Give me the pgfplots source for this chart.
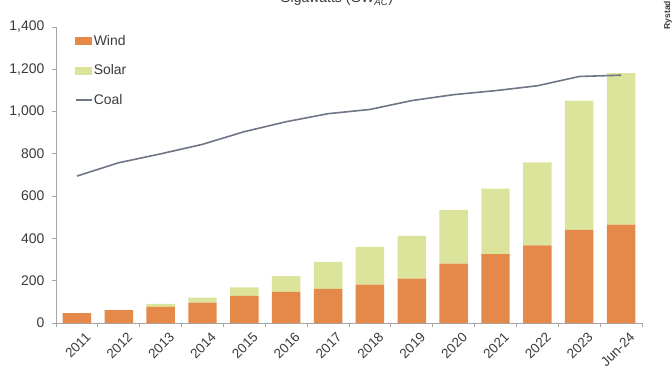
\documentclass[border=0pt]{standalone}
\usepackage{fontspec}
\setmainfont{Liberation Sans}
\usepackage{pgfplots}
\pgfplotsset{compat=1.18}
\definecolor{wind}{HTML}{E5894A}
\definecolor{solar}{HTML}{DCE39A}
\definecolor{coal}{HTML}{6E7587}
\definecolor{axgray}{HTML}{A6A6A6}
\definecolor{txt}{HTML}{3A3A3A}

\pgfplotstableread{
x wind solar coal
0 47 0 695
1 61 0 758
2 76 14 800
3 96 24 845
4 128 41 905
5 147 75 952
6 161 128 990
7 181 179 1010
8 210 202 1052
9 281 254 1080
10 326 309 1099
11 367 393 1122
12 441 611 1166
13 465 717 1172
}\datatable

\begin{document}
\begin{tikzpicture}
\path[use as bounding box] (-56bp,-49bp) rectangle (616bp,323bp);
\clip (-56bp,-49bp) rectangle (616bp,323bp);
\pgfplotsset{
  common/.style={
    at={(0,0)}, anchor=south west,
    scale only axis, width=586bp, height=296bp,
    xmin=-0.5, xmax=13.5, ymin=0, ymax=1400,
  }
}
\begin{axis}[
  common,
  ybar stacked, bar width=0.68,
  axis lines=left,
  axis line style={-, draw=axgray, line width=0.8bp},
  tick align=outside,
  major tick length=3.5bp,
  tick style={draw=axgray, line width=0.8bp},
  ytick={0,200,...,1400},
  yticklabel style={font=\fontsize{14}{16}\selectfont, text=txt,
    /pgf/number format/1000 sep={,}, /pgf/number format/assume math mode=true,
    inner sep=0pt, xshift=-8bp},
  scaled y ticks=false,
  xtick={0,...,13},
  xticklabels={2011,2012,2013,2014,2015,2016,2017,2018,2019,2020,2021,2022,2023,Jun-24},
  xtick style={draw=none},
  xticklabel style={font=\fontsize{13.5}{15}\selectfont, text=txt, rotate=45,
    anchor=north east, inner sep=0pt, xshift=2bp, yshift=-9bp},
  extra x ticks={-0.5,0.5,...,13.5},
  extra x tick labels={},
  extra x tick style={xtick style={draw=axgray, line width=0.8bp}},
]
\addplot[fill=wind, draw=none] table[x=x, y=wind] {\datatable};
\addplot[fill=solar, draw=none] table[x=x, y=solar] {\datatable};
\end{axis}
\begin{axis}[
  common,
  hide axis,
  legend cell align=left,
  legend style={draw=none, fill=none, at={(0.0316,0.98)}, anchor=north west,
    inner sep=0pt, row sep=14bp, font=\fontsize{14}{16}\selectfont,
    text=txt, nodes={inner xsep=1.5bp}},
]
\addlegendimage{legend image code/.code={\fill[wind] (0bp,-3.5bp) rectangle (16bp,3.5bp);}}
\addlegendentry{Wind}
\addlegendimage{legend image code/.code={\fill[solar] (0bp,-3.3bp) rectangle (16bp,3.3bp);}}
\addlegendentry{Solar}
\addplot[coal, line width=1.6bp,
  legend image code/.code={\draw[coal, line width=1.6bp] (0bp,0bp) -- (16bp,0bp);}]
  table[x=x, y=coal] {\datatable};
\addlegendentry{Coal}
\end{axis}
\node[anchor=base, font=\fontsize{14}{16}\selectfont, text=txt] at (280.5bp,320bp)
  {Gigawatts (GW\textsubscript{\itshape AC})};
\node[rotate=90, anchor=base west, font=\bfseries\fontsize{8.6}{10}\selectfont, text=txt]
  at (614bp,290bp) {Rystad \textcolor{wind}{Energy}};
\end{tikzpicture}
\end{document}
